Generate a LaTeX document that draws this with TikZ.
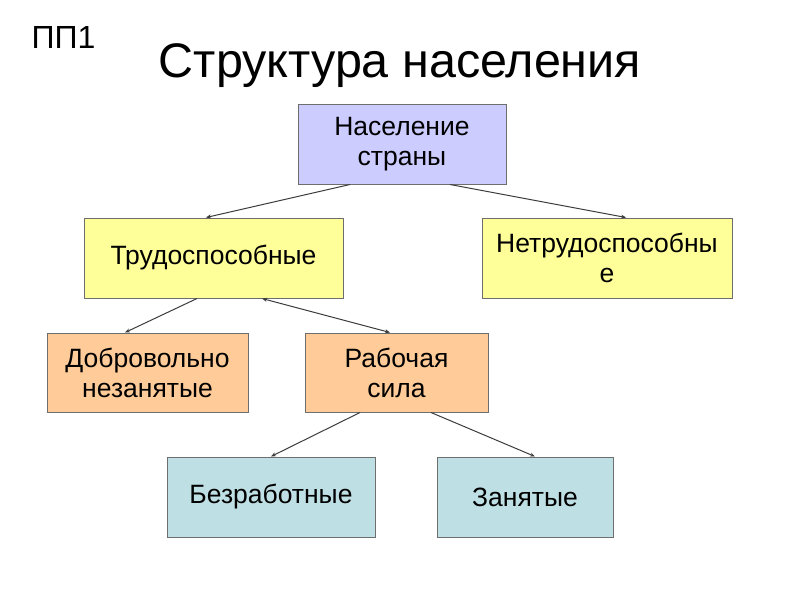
\documentclass[tikz,border=0pt]{standalone}
\usepackage{fontspec}
\setmainfont{Liberation Sans}
\usetikzlibrary{arrows.meta}
\definecolor{lav}{RGB}{204,204,255}
\definecolor{yel}{RGB}{255,255,153}
\definecolor{ora}{RGB}{255,204,153}
\definecolor{cya}{RGB}{190,224,228}
\definecolor{bord}{RGB}{110,110,110}
\definecolor{conn}{RGB}{60,60,60}
\tikzset{
  box/.style={draw=bord, line width=1pt, inner sep=0pt, align=center,
    font=\fontsize{26.5}{30}\selectfont},
  conn/.style={draw=conn, line width=1pt, -{Stealth[length=5pt,width=4pt]}},
  conn2/.style={draw=conn, line width=1pt, {Stealth[length=5pt,width=4pt]}-{Stealth[length=5pt,width=4pt]}}
}
\begin{document}
\begin{tikzpicture}[x=1pt,y=-1pt]
\useasboundingbox[fill=white] (0,0) rectangle (800,600);
\node[font=\fontsize{32}{36}\selectfont, anchor=base, inner sep=0pt] (pp) at (63.5,48) {ПП1};
\node[font=\fontsize{48.5}{54}\selectfont, anchor=base, inner sep=0pt] (title) at (400,77) {Структура населения};
\node[box, fill=lav, minimum width=208pt, minimum height=80pt] (A) at (402,144) {Население\\страны};
\node[box, fill=yel, minimum width=259pt, minimum height=80pt] (B) at (213.5,258) {Трудоспособные};
\node[box, fill=yel, minimum width=250pt, minimum height=80pt] (C) at (607,258) {Нетрудоспособны\\е};
\node[box, fill=ora, minimum width=201pt, minimum height=79pt] (D) at (147.5,372.5) {Добровольно\\незанятые};
\node[box, fill=ora, minimum width=183pt, minimum height=79pt] (E) at (396.5,372.5) {Рабочая\\сила};
\node[box, fill=cya, minimum width=208pt, minimum height=80pt] (F) at (271,497) {Безработные};
\node[box, fill=cya, minimum width=176pt, minimum height=80pt] (G) at (525,497) {Занятые};
\draw[conn] ([xshift=-52pt]A.south) -- ([xshift=-7.5pt]B.north);
\draw[conn] ([xshift=48pt]A.south) -- ([xshift=19pt]C.north);
\draw[conn] ([xshift=-16.5pt]B.south) -- ([xshift=-22.5pt]D.north);
\draw[conn2] ([xshift=48.5pt]B.south) -- ([xshift=-6.5pt]E.north);
\draw[conn] ([xshift=-36.5pt]E.south) -- (F.north);
\draw[conn] ([xshift=34.5pt]E.south) -- ([xshift=10pt]G.north);
\end{tikzpicture}
\end{document}
